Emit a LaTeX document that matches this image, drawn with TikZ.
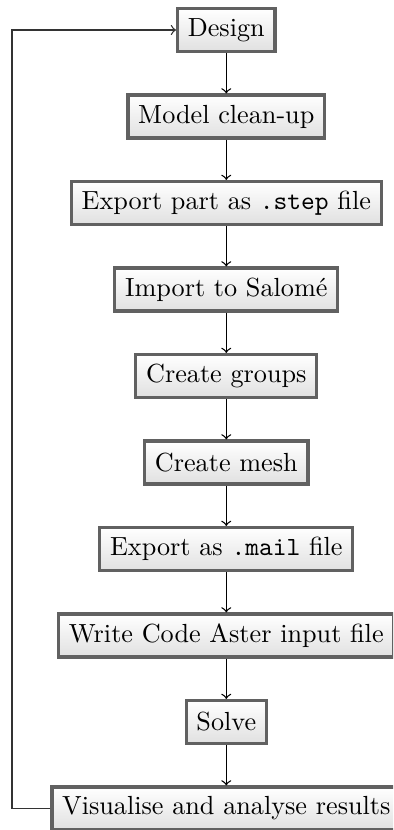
\documentclass[tikz,border=0pt]{standalone}
\usetikzlibrary{arrows}
\tikzset{
  stepbox/.style={draw=black!62, line width=1.2pt, top color=white, bottom color=black!12,
    rectangle, minimum height=16.4pt, inner xsep=3.9pt, inner ysep=3pt},
  flow/.style={->, line width=0.5pt, black},
}
\begin{document}
\begin{tikzpicture}[x=0.381679pt, y=-0.381679pt]
\path[use as bounding box, clip] (0,0) rectangle (393,830);
\fill[white] (0,0) rectangle (393,830);
\node[stepbox] (design) at (226.3,30) {Design};
\node[stepbox] (model) at (226.3,116.5) {Model clean-up};
\node[stepbox] (exstep) at (226.3,203) {Export part as \texttt{.step} file};
\node[stepbox] (import) at (226.3,289.5) {Import to Salomé};
\node[stepbox] (groups) at (226.3,376) {Create groups};
\node[stepbox] (mesh) at (226.3,462.5) {Create mesh};
\node[stepbox] (exmail) at (226.3,549) {Export as \texttt{.mail} file};
\node[stepbox] (write) at (226.3,635.5) {Write Code Aster input file};
\node[stepbox] (solve) at (226.3,722) {Solve};
\node[stepbox] (vis) at (226.3,808.5) {Visualise and analyse results};
\draw[flow] (design) -- (model);
\draw[flow] (model) -- (exstep);
\draw[flow] (exstep) -- (import);
\draw[flow] (import) -- (groups);
\draw[flow] (groups) -- (mesh);
\draw[flow] (mesh) -- (exmail);
\draw[flow] (exmail) -- (write);
\draw[flow] (write) -- (solve);
\draw[flow] (solve) -- (vis);
\coordinate (lb) at (12,808.5);
\coordinate (lt) at (12,30);
\draw[flow, black!80] (vis.west) -- (lb) -- (lt) -- (design.west);
\end{tikzpicture}
\end{document}
